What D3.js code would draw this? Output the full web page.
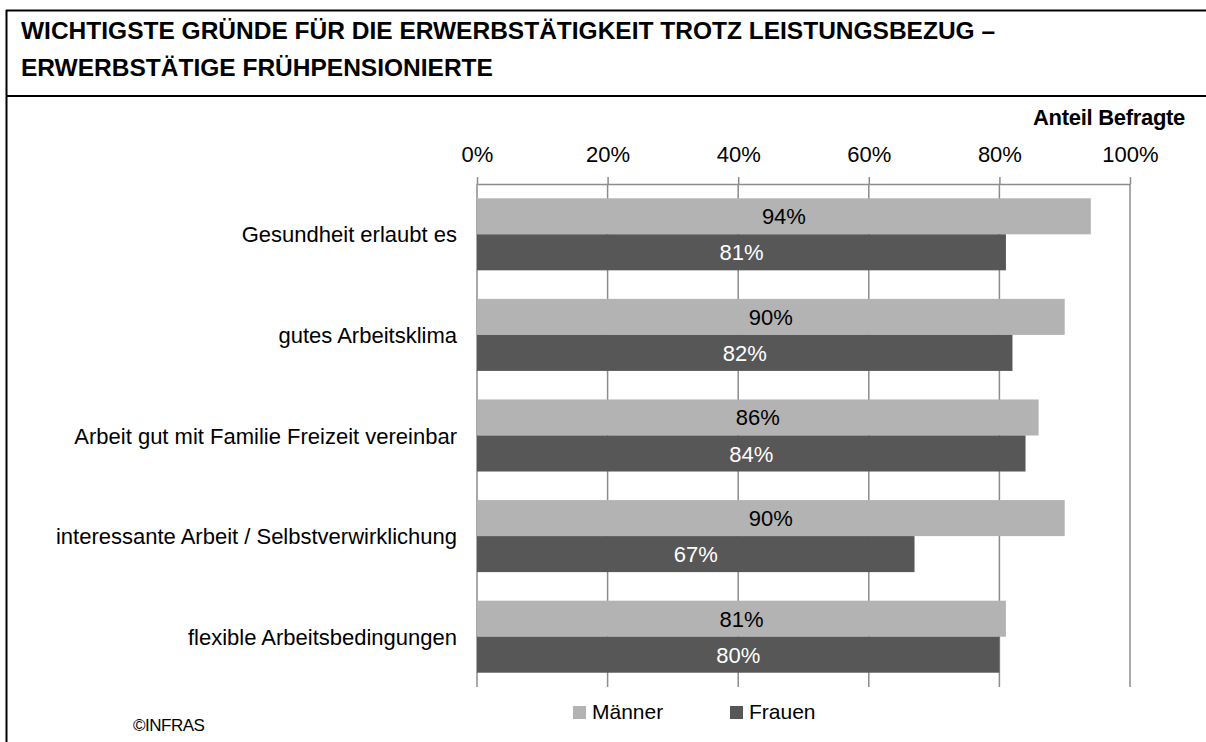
<!DOCTYPE html>
<html>
<head>
<meta charset="utf-8">
<script src="https://cdn.jsdelivr.net/npm/d3@7"></script>
<style>
  body { margin: 0; background: #fff; }
  svg { display: block; font-family: "Liberation Sans", Arial, sans-serif; }
</style>
</head>
<body>
<svg id="chart"></svg>
<script>
const categories = [
  "Gesundheit erlaubt es",
  "gutes Arbeitsklima",
  "Arbeit gut mit Familie Freizeit vereinbar",
  "interessante Arbeit / Selbstverwirklichung",
  "flexible Arbeitsbedingungen"
]
const seriesNames = ["Männer", "Frauen"]
const maenner = [94, 90, 86, 90, 81]
const frauen = [81, 82, 84, 67, 80]
const xTicks = [0, 20, 40, 60, 80, 100]
const titleLines = [
  "WICHTIGSTE GRÜNDE FÜR DIE ERWERBSTÄTIGKEIT TROTZ LEISTUNGSBEZUG –",
  "ERWERBSTÄTIGE FRÜHPENSIONIERTE"
]

const W = 1206, H = 742
const colors = {"Männer": "#b3b3b3", "Frauen": "#575757"}
const labelColors = {"Männer": "#000", "Frauen": "#fff"}

const svg = d3.select("#chart").attr("width", W).attr("height", H)

// frame + title
svg.append("line").attr("x1", 6).attr("x2", W).attr("y1", 10.5).attr("y2", 10.5)
  .style("stroke", "#000").style("stroke-width", 2)
svg.append("line").attr("x1", 6.5).attr("x2", 6.5).attr("y1", 10).attr("y2", H)
  .style("stroke", "#000").style("stroke-width", 2)
svg.append("line").attr("x1", 6).attr("x2", W).attr("y1", 96).attr("y2", 96)
  .style("stroke", "#000").style("stroke-width", 2)

svg.append("g").selectAll("text")
  .data(titleLines)
  .enter()
  .append("text")
  .attr("x", 21)
  .attr("y", (d, i) => 39 + i * 37)
  .style("font-size", "24.5px").style("font-weight", "bold")
  .text(d => d)

// scales
const x = d3.scaleLinear().domain([0, 100]).range([477, 1130])
const y = d3.scaleBand().domain(categories).range([184, 687])
  .paddingInner(0.284).paddingOuter(0.142)
const ySub = d3.scaleBand().domain(seriesNames).range([0, y.bandwidth()])

// gridlines
svg.append("g").selectAll("line")
  .data(xTicks)
  .enter()
  .append("line")
  .attr("x1", d => x(d)).attr("x2", d => x(d))
  .attr("y1", 184).attr("y2", 687)
  .style("stroke", "#8c8c8c").style("stroke-width", 1.5)

// top axis
const axis = svg.append("g")
  .attr("transform", "translate(0,184)")
  .call(d3.axisTop(x).tickValues(xTicks).tickFormat(d => d + "%").tickSize(7).tickPadding(15).tickSizeOuter(0))
axis.select(".domain").style("stroke", "#8c8c8c").style("stroke-width", 1.5)
axis.selectAll(".tick line").style("stroke", "#8c8c8c").style("stroke-width", 1.5)
axis.selectAll("text")
  .style("font-family", "'Liberation Sans', Arial, sans-serif")
  .style("font-size", "22px").style("fill", "#000")

svg.append("text")
  .attr("x", 1185).attr("y", 125)
  .style("text-anchor", "end")
  .style("font-size", "22px").style("font-weight", "bold")
  .style("letter-spacing", "-0.3px")
  .text("Anteil Befragte")

// bars
const rows = categories.map((c, i) => ({cat: c, values: [
  {name: "Männer", v: maenner[i]},
  {name: "Frauen", v: frauen[i]}
]}))

const groups = svg.append("g").selectAll("g")
  .data(rows)
  .enter()
  .append("g")
  .attr("transform", d => `translate(0,${y(d.cat)})`)

groups.selectAll("rect")
  .data(d => d.values)
  .enter()
  .append("rect")
  .attr("x", x(0))
  .attr("y", d => ySub(d.name))
  .attr("width", d => x(d.v) - x(0))
  .attr("height", ySub.bandwidth())
  .style("fill", d => colors[d.name])

groups.selectAll("text.val")
  .data(d => d.values)
  .enter()
  .append("text")
  .attr("class", "val")
  .attr("x", d => (x(0) + x(d.v)) / 2)
  .attr("y", d => ySub(d.name) + ySub.bandwidth() / 2 + 8)
  .style("text-anchor", "middle")
  .style("font-size", "22px")
  .style("fill", d => labelColors[d.name])
  .text(d => d.v + "%")

// category labels
svg.append("g").selectAll("text")
  .data(categories)
  .enter()
  .append("text")
  .attr("x", 457)
  .attr("y", d => y(d) + y.bandwidth() / 2 + 8)
  .style("text-anchor", "end")
  .style("font-size", "22px")
  .text(d => d)

// legend
const legendX = [573, 730]
const legend = svg.append("g").selectAll("g")
  .data(seriesNames)
  .enter()
  .append("g")
  .attr("transform", (d, i) => `translate(${legendX[i]},706)`)
legend.append("rect")
  .attr("width", 13).attr("height", 13)
  .style("fill", d => colors[d])
legend.append("text")
  .attr("x", 19).attr("y", 13)
  .style("font-size", "21px")
  .text(d => d)

// source
svg.append("text")
  .attr("x", 133).attr("y", 731)
  .style("font-size", "17px")
  .style("letter-spacing", "-0.5px")
  .text("©INFRAS")
</script>
</body>
</html>
